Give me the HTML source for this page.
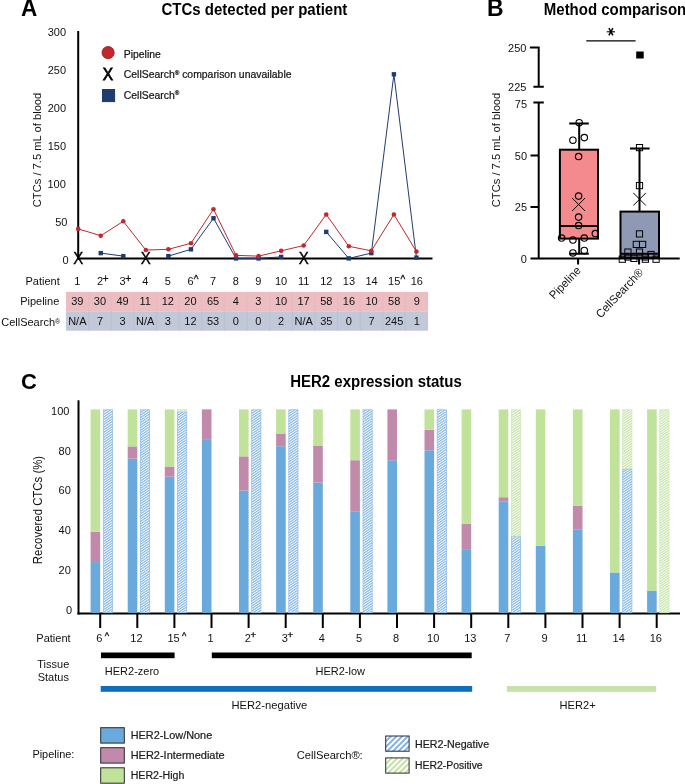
<!DOCTYPE html>
<html><head><meta charset="utf-8"><style>
html,body{margin:0;padding:0;background:#fff;}
svg{display:block;will-change:transform;}
text{font-family:"Liberation Sans", sans-serif;}
</style></head><body>
<svg width="685" height="784" viewBox="0 0 685 784">
<defs>
<pattern id="hb" patternUnits="userSpaceOnUse" width="2.1" height="2.1" patternTransform="rotate(56)">
<rect width="2.1" height="2.1" fill="#ffffff"/><rect width="1.15" height="2.1" fill="#84b6e6"/></pattern>
<pattern id="hg" patternUnits="userSpaceOnUse" width="2.1" height="2.1" patternTransform="rotate(56)">
<rect width="2.1" height="2.1" fill="#ffffff"/><rect width="1.15" height="2.1" fill="#c4e3a6"/></pattern>
<pattern id="lhb" patternUnits="userSpaceOnUse" width="4" height="4" patternTransform="rotate(45)">
<rect width="4" height="4" fill="#ffffff"/><rect width="2" height="4" fill="#7fb3e6"/></pattern>
<pattern id="lhg" patternUnits="userSpaceOnUse" width="4" height="4" patternTransform="rotate(45)">
<rect width="4" height="4" fill="#ffffff"/><rect width="2" height="4" fill="#c3e3a3"/></pattern>
</defs>
<rect width="685" height="784" fill="#fff"/>

<text transform="translate(20.90,16.40) scale(1,1.04)" font-size="22.5" text-anchor="start" font-weight="bold" fill="#000" >A</text>
<text transform="translate(254.40,14.60) scale(1,1.04)" font-size="15" text-anchor="middle" font-weight="bold" fill="#000" >CTCs detected per patient</text>
<text transform="translate(66.00,35.90) scale(1,1.04)" font-size="11" text-anchor="end" font-weight="normal" fill="#111111" >300</text>
<text transform="translate(66.00,73.90) scale(1,1.04)" font-size="11" text-anchor="end" font-weight="normal" fill="#111111" >250</text>
<text transform="translate(66.00,111.90) scale(1,1.04)" font-size="11" text-anchor="end" font-weight="normal" fill="#111111" >200</text>
<text transform="translate(66.00,149.90) scale(1,1.04)" font-size="11" text-anchor="end" font-weight="normal" fill="#111111" >150</text>
<text transform="translate(65.80,187.90) scale(1,1.04)" font-size="11" text-anchor="end" font-weight="normal" fill="#111111" >100</text>
<text transform="translate(67.40,225.90) scale(1,1.04)" font-size="11" text-anchor="end" font-weight="normal" fill="#111111" >50</text>
<text transform="translate(68.60,263.90) scale(1,1.04)" font-size="11" text-anchor="end" font-weight="normal" fill="#111111" >0</text>
<text transform="translate(41.3,150) rotate(-90) scale(1,1.04)" font-size="11.2" text-anchor="middle" fill="#111111">CTCs / 7.5 mL of blood</text>
<line x1="78.2" y1="31" x2="78.2" y2="259.4" stroke="#000" stroke-width="2"/>
<line x1="77.2" y1="258.4" x2="432.5" y2="258.4" stroke="#000" stroke-width="2"/>
<polyline points="100.75,253.10 123.30,256.13" fill="none" stroke="#1f3c70" stroke-width="1"/>
<polyline points="168.40,256.13 190.95,249.32 213.50,218.28 236.05,258.40 258.60,258.40 281.15,256.89" fill="none" stroke="#1f3c70" stroke-width="1"/>
<polyline points="326.25,231.90 348.80,258.40 371.35,253.10 393.90,74.30 416.45,257.64" fill="none" stroke="#1f3c70" stroke-width="1"/>
<polyline points="78.20,228.88 100.75,235.69 123.30,221.31 145.85,250.07 168.40,249.32 190.95,243.26 213.50,209.19 236.05,255.37 258.60,256.13 281.15,250.83 303.70,245.53 326.25,214.49 348.80,246.29 371.35,250.83 393.90,214.49 416.45,251.59" fill="none" stroke="#c4262e" stroke-width="1"/>
<rect x="98.55" y="250.90" width="4.4" height="4.4" fill="#1f3c70"/>
<rect x="121.10" y="253.93" width="4.4" height="4.4" fill="#1f3c70"/>
<rect x="166.20" y="253.93" width="4.4" height="4.4" fill="#1f3c70"/>
<rect x="188.75" y="247.12" width="4.4" height="4.4" fill="#1f3c70"/>
<rect x="211.30" y="216.08" width="4.4" height="4.4" fill="#1f3c70"/>
<rect x="233.85" y="256.20" width="4.4" height="4.4" fill="#1f3c70"/>
<rect x="256.40" y="256.20" width="4.4" height="4.4" fill="#1f3c70"/>
<rect x="278.95" y="254.69" width="4.4" height="4.4" fill="#1f3c70"/>
<rect x="324.05" y="229.70" width="4.4" height="4.4" fill="#1f3c70"/>
<rect x="346.60" y="256.20" width="4.4" height="4.4" fill="#1f3c70"/>
<rect x="369.15" y="250.90" width="4.4" height="4.4" fill="#1f3c70"/>
<rect x="391.70" y="72.10" width="4.4" height="4.4" fill="#1f3c70"/>
<rect x="414.25" y="255.44" width="4.4" height="4.4" fill="#1f3c70"/>
<circle cx="78.20" cy="228.88" r="2.3" fill="#c4262e"/>
<circle cx="100.75" cy="235.69" r="2.3" fill="#c4262e"/>
<circle cx="123.30" cy="221.31" r="2.3" fill="#c4262e"/>
<circle cx="145.85" cy="250.07" r="2.3" fill="#c4262e"/>
<circle cx="168.40" cy="249.32" r="2.3" fill="#c4262e"/>
<circle cx="190.95" cy="243.26" r="2.3" fill="#c4262e"/>
<circle cx="213.50" cy="209.19" r="2.3" fill="#c4262e"/>
<circle cx="236.05" cy="255.37" r="2.3" fill="#c4262e"/>
<circle cx="258.60" cy="256.13" r="2.3" fill="#c4262e"/>
<circle cx="281.15" cy="250.83" r="2.3" fill="#c4262e"/>
<circle cx="303.70" cy="245.53" r="2.3" fill="#c4262e"/>
<circle cx="326.25" cy="214.49" r="2.3" fill="#c4262e"/>
<circle cx="348.80" cy="246.29" r="2.3" fill="#c4262e"/>
<circle cx="371.35" cy="250.83" r="2.3" fill="#c4262e"/>
<circle cx="393.90" cy="214.49" r="2.3" fill="#c4262e"/>
<circle cx="416.45" cy="251.59" r="2.3" fill="#c4262e"/>
<text transform="translate(78.20,263.50) scale(1,1.04)" font-size="15" text-anchor="middle" font-weight="normal" fill="#000" stroke="#000" stroke-width="0.35">X</text>
<text transform="translate(145.85,263.50) scale(1,1.04)" font-size="15" text-anchor="middle" font-weight="normal" fill="#000" stroke="#000" stroke-width="0.35">X</text>
<text transform="translate(303.70,263.50) scale(1,1.04)" font-size="15" text-anchor="middle" font-weight="normal" fill="#000" stroke="#000" stroke-width="0.35">X</text>
<circle cx="108.1" cy="52.6" r="6.1" fill="#c4262e" stroke="#8a1a1f" stroke-width="0.8"/>
<text transform="translate(123.80,57.50) scale(1,1.0)" font-size="10.4" text-anchor="start" font-weight="normal" fill="#161314" stroke="#161314" stroke-width="0.22">Pipeline</text>
<text transform="translate(108.00,80.30) scale(1,1.04)" font-size="15.5" text-anchor="middle" font-weight="normal" fill="#000" stroke="#000" stroke-width="0.75">X</text>
<text transform="translate(123.80,78.20) scale(1,1.0)" font-size="10.42" text-anchor="start" font-weight="normal" fill="#161314" stroke="#161314" stroke-width="0.22">CellSearch<tspan font-size="6.2" dy="-3.3">®</tspan><tspan dy="3.3"> comparison unavailable</tspan></text>
<rect x="102.4" y="89.4" width="12.3" height="12.3" fill="#1f3c70" stroke="#14284d" stroke-width="0.8"/>
<text transform="translate(123.80,98.70) scale(1,1.0)" font-size="10.42" text-anchor="start" font-weight="normal" fill="#161314" stroke="#161314" stroke-width="0.22">CellSearch<tspan font-size="6.2" dy="-3.3">®</tspan></text>
<rect x="66.0" y="291.9" width="362.08" height="19.4" fill="#ecbdc1"/>
<rect x="66.0" y="311.3" width="362.08" height="19.4" fill="#c1c8d7"/>
<line x1="88.63" y1="291.9" x2="88.63" y2="311.3" stroke="#e8b7bb" stroke-width="0.8"/>
<line x1="88.63" y1="311.3" x2="88.63" y2="330.7" stroke="#b8bfcf" stroke-width="0.8"/>
<line x1="111.26" y1="291.9" x2="111.26" y2="311.3" stroke="#e8b7bb" stroke-width="0.8"/>
<line x1="111.26" y1="311.3" x2="111.26" y2="330.7" stroke="#b8bfcf" stroke-width="0.8"/>
<line x1="133.89" y1="291.9" x2="133.89" y2="311.3" stroke="#e8b7bb" stroke-width="0.8"/>
<line x1="133.89" y1="311.3" x2="133.89" y2="330.7" stroke="#b8bfcf" stroke-width="0.8"/>
<line x1="156.52" y1="291.9" x2="156.52" y2="311.3" stroke="#e8b7bb" stroke-width="0.8"/>
<line x1="156.52" y1="311.3" x2="156.52" y2="330.7" stroke="#b8bfcf" stroke-width="0.8"/>
<line x1="179.15" y1="291.9" x2="179.15" y2="311.3" stroke="#e8b7bb" stroke-width="0.8"/>
<line x1="179.15" y1="311.3" x2="179.15" y2="330.7" stroke="#b8bfcf" stroke-width="0.8"/>
<line x1="201.78" y1="291.9" x2="201.78" y2="311.3" stroke="#e8b7bb" stroke-width="0.8"/>
<line x1="201.78" y1="311.3" x2="201.78" y2="330.7" stroke="#b8bfcf" stroke-width="0.8"/>
<line x1="224.41" y1="291.9" x2="224.41" y2="311.3" stroke="#e8b7bb" stroke-width="0.8"/>
<line x1="224.41" y1="311.3" x2="224.41" y2="330.7" stroke="#b8bfcf" stroke-width="0.8"/>
<line x1="247.04" y1="291.9" x2="247.04" y2="311.3" stroke="#e8b7bb" stroke-width="0.8"/>
<line x1="247.04" y1="311.3" x2="247.04" y2="330.7" stroke="#b8bfcf" stroke-width="0.8"/>
<line x1="269.67" y1="291.9" x2="269.67" y2="311.3" stroke="#e8b7bb" stroke-width="0.8"/>
<line x1="269.67" y1="311.3" x2="269.67" y2="330.7" stroke="#b8bfcf" stroke-width="0.8"/>
<line x1="292.30" y1="291.9" x2="292.30" y2="311.3" stroke="#e8b7bb" stroke-width="0.8"/>
<line x1="292.30" y1="311.3" x2="292.30" y2="330.7" stroke="#b8bfcf" stroke-width="0.8"/>
<line x1="314.93" y1="291.9" x2="314.93" y2="311.3" stroke="#e8b7bb" stroke-width="0.8"/>
<line x1="314.93" y1="311.3" x2="314.93" y2="330.7" stroke="#b8bfcf" stroke-width="0.8"/>
<line x1="337.56" y1="291.9" x2="337.56" y2="311.3" stroke="#e8b7bb" stroke-width="0.8"/>
<line x1="337.56" y1="311.3" x2="337.56" y2="330.7" stroke="#b8bfcf" stroke-width="0.8"/>
<line x1="360.19" y1="291.9" x2="360.19" y2="311.3" stroke="#e8b7bb" stroke-width="0.8"/>
<line x1="360.19" y1="311.3" x2="360.19" y2="330.7" stroke="#b8bfcf" stroke-width="0.8"/>
<line x1="382.82" y1="291.9" x2="382.82" y2="311.3" stroke="#e8b7bb" stroke-width="0.8"/>
<line x1="382.82" y1="311.3" x2="382.82" y2="330.7" stroke="#b8bfcf" stroke-width="0.8"/>
<line x1="405.45" y1="291.9" x2="405.45" y2="311.3" stroke="#e8b7bb" stroke-width="0.8"/>
<line x1="405.45" y1="311.3" x2="405.45" y2="330.7" stroke="#b8bfcf" stroke-width="0.8"/>
<text transform="translate(59.70,284.80) scale(1,1.04)" font-size="11" text-anchor="end" font-weight="normal" fill="#111111" >Patient</text>
<text transform="translate(59.30,304.80) scale(1,1.04)" font-size="11" text-anchor="end" font-weight="normal" fill="#111111" >Pipeline</text>
<text transform="translate(60.30,326.20) scale(1,1.04)" font-size="11" text-anchor="end" font-weight="normal" fill="#111111" >CellSearch<tspan font-size="7.2" dy="-2.6">®</tspan></text>
<text transform="translate(77.31,284.80) scale(1,1.04)" font-size="11" text-anchor="middle" font-weight="normal" fill="#111111" >1</text>
<text transform="translate(77.31,304.80) scale(1,1.04)" font-size="11" text-anchor="middle" font-weight="normal" fill="#111111" >39</text>
<text transform="translate(77.31,324.70) scale(1,1.04)" font-size="11" text-anchor="middle" font-weight="normal" fill="#111111" >N/A</text>
<text transform="translate(99.94,284.80) scale(1,1.04)" font-size="11" text-anchor="middle" font-weight="normal" fill="#111111" >2</text>
<text transform="translate(102.60,282.00) scale(1,1.04)" font-size="10.5" text-anchor="start" font-weight="normal" fill="#111111" stroke="#111" stroke-width="0.3">+</text>
<text transform="translate(99.94,304.80) scale(1,1.04)" font-size="11" text-anchor="middle" font-weight="normal" fill="#111111" >30</text>
<text transform="translate(99.94,324.70) scale(1,1.04)" font-size="11" text-anchor="middle" font-weight="normal" fill="#111111" >7</text>
<text transform="translate(122.57,284.80) scale(1,1.04)" font-size="11" text-anchor="middle" font-weight="normal" fill="#111111" >3</text>
<text transform="translate(125.23,282.00) scale(1,1.04)" font-size="10.5" text-anchor="start" font-weight="normal" fill="#111111" stroke="#111" stroke-width="0.3">+</text>
<text transform="translate(122.57,304.80) scale(1,1.04)" font-size="11" text-anchor="middle" font-weight="normal" fill="#111111" >49</text>
<text transform="translate(122.57,324.70) scale(1,1.04)" font-size="11" text-anchor="middle" font-weight="normal" fill="#111111" >3</text>
<text transform="translate(145.20,284.80) scale(1,1.04)" font-size="11" text-anchor="middle" font-weight="normal" fill="#111111" >4</text>
<text transform="translate(145.20,304.80) scale(1,1.04)" font-size="11" text-anchor="middle" font-weight="normal" fill="#111111" >11</text>
<text transform="translate(145.20,324.70) scale(1,1.04)" font-size="11" text-anchor="middle" font-weight="normal" fill="#111111" >N/A</text>
<text transform="translate(167.83,284.80) scale(1,1.04)" font-size="11" text-anchor="middle" font-weight="normal" fill="#111111" >5</text>
<text transform="translate(167.83,304.80) scale(1,1.04)" font-size="11" text-anchor="middle" font-weight="normal" fill="#111111" >12</text>
<text transform="translate(167.83,324.70) scale(1,1.04)" font-size="11" text-anchor="middle" font-weight="normal" fill="#111111" >3</text>
<text transform="translate(190.46,284.80) scale(1,1.04)" font-size="11" text-anchor="middle" font-weight="normal" fill="#111111" >6</text>
<text transform="translate(193.87,282.80) scale(1,1.04)" font-size="10" text-anchor="start" font-weight="normal" fill="#111111" stroke="#1a1a1a" stroke-width="0.3">^</text>
<text transform="translate(190.46,304.80) scale(1,1.04)" font-size="11" text-anchor="middle" font-weight="normal" fill="#111111" >20</text>
<text transform="translate(190.46,324.70) scale(1,1.04)" font-size="11" text-anchor="middle" font-weight="normal" fill="#111111" >12</text>
<text transform="translate(213.09,284.80) scale(1,1.04)" font-size="11" text-anchor="middle" font-weight="normal" fill="#111111" >7</text>
<text transform="translate(213.09,304.80) scale(1,1.04)" font-size="11" text-anchor="middle" font-weight="normal" fill="#111111" >65</text>
<text transform="translate(213.09,324.70) scale(1,1.04)" font-size="11" text-anchor="middle" font-weight="normal" fill="#111111" >53</text>
<text transform="translate(235.72,284.80) scale(1,1.04)" font-size="11" text-anchor="middle" font-weight="normal" fill="#111111" >8</text>
<text transform="translate(235.72,304.80) scale(1,1.04)" font-size="11" text-anchor="middle" font-weight="normal" fill="#111111" >4</text>
<text transform="translate(235.72,324.70) scale(1,1.04)" font-size="11" text-anchor="middle" font-weight="normal" fill="#111111" >0</text>
<text transform="translate(258.36,284.80) scale(1,1.04)" font-size="11" text-anchor="middle" font-weight="normal" fill="#111111" >9</text>
<text transform="translate(258.36,304.80) scale(1,1.04)" font-size="11" text-anchor="middle" font-weight="normal" fill="#111111" >3</text>
<text transform="translate(258.36,324.70) scale(1,1.04)" font-size="11" text-anchor="middle" font-weight="normal" fill="#111111" >0</text>
<text transform="translate(280.99,284.80) scale(1,1.04)" font-size="11" text-anchor="middle" font-weight="normal" fill="#111111" >10</text>
<text transform="translate(280.99,304.80) scale(1,1.04)" font-size="11" text-anchor="middle" font-weight="normal" fill="#111111" >10</text>
<text transform="translate(280.99,324.70) scale(1,1.04)" font-size="11" text-anchor="middle" font-weight="normal" fill="#111111" >2</text>
<text transform="translate(303.62,284.80) scale(1,1.04)" font-size="11" text-anchor="middle" font-weight="normal" fill="#111111" >11</text>
<text transform="translate(303.62,304.80) scale(1,1.04)" font-size="11" text-anchor="middle" font-weight="normal" fill="#111111" >17</text>
<text transform="translate(303.62,324.70) scale(1,1.04)" font-size="11" text-anchor="middle" font-weight="normal" fill="#111111" >N/A</text>
<text transform="translate(326.25,284.80) scale(1,1.04)" font-size="11" text-anchor="middle" font-weight="normal" fill="#111111" >12</text>
<text transform="translate(326.25,304.80) scale(1,1.04)" font-size="11" text-anchor="middle" font-weight="normal" fill="#111111" >58</text>
<text transform="translate(326.25,324.70) scale(1,1.04)" font-size="11" text-anchor="middle" font-weight="normal" fill="#111111" >35</text>
<text transform="translate(348.88,284.80) scale(1,1.04)" font-size="11" text-anchor="middle" font-weight="normal" fill="#111111" >13</text>
<text transform="translate(348.88,304.80) scale(1,1.04)" font-size="11" text-anchor="middle" font-weight="normal" fill="#111111" >16</text>
<text transform="translate(348.88,324.70) scale(1,1.04)" font-size="11" text-anchor="middle" font-weight="normal" fill="#111111" >0</text>
<text transform="translate(371.50,284.80) scale(1,1.04)" font-size="11" text-anchor="middle" font-weight="normal" fill="#111111" >14</text>
<text transform="translate(371.50,304.80) scale(1,1.04)" font-size="11" text-anchor="middle" font-weight="normal" fill="#111111" >10</text>
<text transform="translate(371.50,324.70) scale(1,1.04)" font-size="11" text-anchor="middle" font-weight="normal" fill="#111111" >7</text>
<text transform="translate(394.13,284.80) scale(1,1.04)" font-size="11" text-anchor="middle" font-weight="normal" fill="#111111" >15</text>
<text transform="translate(400.61,282.80) scale(1,1.04)" font-size="10" text-anchor="start" font-weight="normal" fill="#111111" stroke="#1a1a1a" stroke-width="0.3">^</text>
<text transform="translate(394.13,304.80) scale(1,1.04)" font-size="11" text-anchor="middle" font-weight="normal" fill="#111111" >58</text>
<text transform="translate(394.13,324.70) scale(1,1.04)" font-size="11" text-anchor="middle" font-weight="normal" fill="#111111" >245</text>
<text transform="translate(416.76,284.80) scale(1,1.04)" font-size="11" text-anchor="middle" font-weight="normal" fill="#111111" >16</text>
<text transform="translate(416.76,304.80) scale(1,1.04)" font-size="11" text-anchor="middle" font-weight="normal" fill="#111111" >9</text>
<text transform="translate(416.76,324.70) scale(1,1.04)" font-size="11" text-anchor="middle" font-weight="normal" fill="#111111" >1</text>
<text transform="translate(487.00,15.90) scale(1,1.04)" font-size="23" text-anchor="start" font-weight="bold" fill="#000" >B</text>
<text transform="translate(543.80,15.00) scale(1,1.04)" font-size="15" text-anchor="start" font-weight="bold" fill="#000" >Method comparison</text>
<path d="M606.8,31.8H615" stroke="#000" stroke-width="1.1" fill="none"/><path d="M608.9,28.2L612.9,35.4M612.9,28.2L608.9,35.4" stroke="#000" stroke-width="1.5" fill="none"/>
<line x1="586.3" y1="40.8" x2="635.6" y2="40.8" stroke="#000" stroke-width="1.3"/>
<path d="M529.9,47.4H538.7V86.8M533.4,86.8H543.8" stroke="#000" stroke-width="2" fill="none"/>
<path d="M533.4,102.6H543.8M538.7,102.6V258.6M530.5,155.5H538.7M530.5,207.1H538.7M530.5,258.6H679.7" stroke="#000" stroke-width="2" fill="none"/>
<path d="M578.1,258.6V264.4M639.1,258.6V264.4" stroke="#000" stroke-width="2" fill="none"/>
<text transform="translate(526.40,51.70) scale(1,1.04)" font-size="11" text-anchor="end" font-weight="normal" fill="#111111" >250</text>
<text transform="translate(526.40,91.10) scale(1,1.04)" font-size="11" text-anchor="end" font-weight="normal" fill="#111111" >225</text>
<text transform="translate(527.00,108.30) scale(1,1.04)" font-size="11" text-anchor="end" font-weight="normal" fill="#111111" >75</text>
<text transform="translate(527.00,159.50) scale(1,1.04)" font-size="11" text-anchor="end" font-weight="normal" fill="#111111" >50</text>
<text transform="translate(527.00,211.10) scale(1,1.04)" font-size="11" text-anchor="end" font-weight="normal" fill="#111111" >25</text>
<text transform="translate(527.00,262.80) scale(1,1.04)" font-size="11" text-anchor="end" font-weight="normal" fill="#111111" >0</text>
<text transform="translate(500.1,150) rotate(-90) scale(1,1.04)" font-size="11.2" text-anchor="middle" fill="#111111">CTCs / 7.5 mL of blood</text>
<rect x="559.9" y="149.7" width="38.1" height="88.9" fill="#f4898e" stroke="#000" stroke-width="2"/>
<path d="M559.9,226.1H598M579.2,123.6V149.7M579.2,238.6V253.7M569.2,123.6H588.8M569.2,253.7H588.8" stroke="#000" stroke-width="2" fill="none"/>
<circle cx="579.2" cy="122.7" r="3.2" fill="none" stroke="#000" stroke-width="1.15"/>
<circle cx="572.9" cy="140.2" r="3.2" fill="none" stroke="#000" stroke-width="1.15"/>
<circle cx="584.3" cy="137.6" r="3.2" fill="none" stroke="#000" stroke-width="1.15"/>
<circle cx="578.6" cy="156.5" r="3.2" fill="none" stroke="#000" stroke-width="1.15"/>
<circle cx="578.6" cy="196.1" r="3.2" fill="none" stroke="#000" stroke-width="1.15"/>
<circle cx="578.6" cy="217.1" r="3.2" fill="none" stroke="#000" stroke-width="1.15"/>
<circle cx="578.6" cy="225.5" r="3.2" fill="none" stroke="#000" stroke-width="1.15"/>
<circle cx="595.3" cy="233.5" r="3.2" fill="none" stroke="#000" stroke-width="1.15"/>
<circle cx="561.6" cy="238" r="3.2" fill="none" stroke="#000" stroke-width="1.15"/>
<circle cx="572.9" cy="240" r="3.2" fill="none" stroke="#000" stroke-width="1.15"/>
<circle cx="584.3" cy="238" r="3.2" fill="none" stroke="#000" stroke-width="1.15"/>
<circle cx="572.9" cy="252.9" r="3.2" fill="none" stroke="#000" stroke-width="1.15"/>
<circle cx="584.3" cy="250.4" r="3.2" fill="none" stroke="#000" stroke-width="1.15"/>
<path d="M572.1,198.0L585.1,211.0M585.1,198.0L572.1,211.0" stroke="#000" stroke-width="1" fill="none"/>
<rect x="620.5" y="211.6" width="38.5" height="46" fill="#8e9ab4" stroke="#000" stroke-width="2"/>
<path d="M639.5,148.4V211.6M630,148.4H649.6M620.5,253.8H659" stroke="#000" stroke-width="2" fill="none"/>
<rect x="636.40" y="144.50" width="6.2" height="6.2" fill="none" stroke="#000" stroke-width="1"/>
<rect x="636.40" y="182.50" width="6.2" height="6.2" fill="none" stroke="#000" stroke-width="1"/>
<rect x="636.40" y="230.80" width="6.2" height="6.2" fill="none" stroke="#000" stroke-width="1"/>
<rect x="633.20" y="241.30" width="6.2" height="6.2" fill="none" stroke="#000" stroke-width="1"/>
<rect x="639.50" y="241.30" width="6.2" height="6.2" fill="none" stroke="#000" stroke-width="1"/>
<rect x="624.80" y="249.00" width="6.2" height="6.2" fill="none" stroke="#000" stroke-width="1"/>
<rect x="636.40" y="249.00" width="6.2" height="6.2" fill="none" stroke="#000" stroke-width="1"/>
<rect x="647.90" y="251.40" width="6.2" height="6.2" fill="none" stroke="#000" stroke-width="1"/>
<rect x="619.20" y="256.10" width="6.2" height="6.2" fill="none" stroke="#000" stroke-width="1"/>
<rect x="630.80" y="255.30" width="6.2" height="6.2" fill="none" stroke="#000" stroke-width="1"/>
<rect x="642.30" y="256.10" width="6.2" height="6.2" fill="none" stroke="#000" stroke-width="1"/>
<rect x="653.00" y="256.10" width="6.2" height="6.2" fill="none" stroke="#000" stroke-width="1"/>
<rect x="624.80" y="253.90" width="6.2" height="6.2" fill="none" stroke="#000" stroke-width="1"/>
<rect x="642.30" y="253.90" width="6.2" height="6.2" fill="none" stroke="#000" stroke-width="1"/>
<path d="M633.3000000000001,192.89999999999998L645.9,205.5M645.9,192.89999999999998L633.3000000000001,205.5" stroke="#000" stroke-width="1" fill="none"/>
<rect x="636.2" y="51.5" width="7.5" height="7" fill="#000"/>
<text transform="translate(581.5,271) rotate(-46.5) scale(1,1.04)" font-size="11.2" text-anchor="end" fill="#111111">Pipeline</text>
<text transform="translate(644,273) rotate(-46.5) scale(1,1.04)" font-size="11.2" text-anchor="end" fill="#111111">CellSearch®</text>
<text transform="translate(21.00,389.40) scale(1,1.04)" font-size="22" text-anchor="start" font-weight="bold" fill="#000" >C</text>
<text transform="translate(376.00,387.20) scale(1,1.04)" font-size="15" text-anchor="middle" font-weight="bold" fill="#000" >HER2 expression status</text>
<text transform="translate(69.40,415.20) scale(1,1.04)" font-size="11" text-anchor="end" font-weight="normal" fill="#111111" >100</text>
<text transform="translate(70.80,455.00) scale(1,1.04)" font-size="11" text-anchor="end" font-weight="normal" fill="#111111" >80</text>
<text transform="translate(70.80,494.30) scale(1,1.04)" font-size="11" text-anchor="end" font-weight="normal" fill="#111111" >60</text>
<text transform="translate(70.80,534.40) scale(1,1.04)" font-size="11" text-anchor="end" font-weight="normal" fill="#111111" >40</text>
<text transform="translate(70.80,573.60) scale(1,1.04)" font-size="11" text-anchor="end" font-weight="normal" fill="#111111" >20</text>
<text transform="translate(72.20,613.70) scale(1,1.04)" font-size="11" text-anchor="end" font-weight="normal" fill="#111111" >0</text>
<text transform="translate(42,510) rotate(-90) scale(1,1.04)" font-size="11.4" text-anchor="middle" fill="#111111">Recovered CTCs (%)</text>
<line x1="78.5" y1="400.3" x2="78.5" y2="614.5" stroke="#000" stroke-width="2"/>
<line x1="77.5" y1="613.5" x2="680" y2="613.5" stroke="#000" stroke-width="2"/>
<rect x="90.60" y="562.08" width="9.6" height="50.62" fill="#6aa9dc"/>
<rect x="90.60" y="531.79" width="9.6" height="30.29" fill="#c18aaa"/>
<rect x="90.60" y="409.40" width="9.6" height="122.39" fill="#c1e29a"/>
<rect x="103.30" y="409.80" width="9.2" height="202.90" fill="url(#hb)" stroke="#92bfea" stroke-width="0.8"/>
<line x1="100.20" y1="613.5" x2="100.20" y2="628" stroke="#000" stroke-width="2"/>
<text transform="translate(99.30,642.00) scale(1,1.04)" font-size="11" text-anchor="middle" font-weight="normal" fill="#111111" >6</text>
<text transform="translate(104.81,639.00) scale(1,1.04)" font-size="9.2" text-anchor="start" font-weight="normal" fill="#111111" stroke="#1a1a1a" stroke-width="0.35">^</text>
<rect x="127.70" y="458.60" width="9.6" height="154.10" fill="#6aa9dc"/>
<rect x="127.70" y="446.40" width="9.6" height="12.20" fill="#c18aaa"/>
<rect x="127.70" y="409.40" width="9.6" height="37.00" fill="#c1e29a"/>
<rect x="140.40" y="409.80" width="9.2" height="202.90" fill="url(#hb)" stroke="#92bfea" stroke-width="0.8"/>
<line x1="137.30" y1="613.5" x2="137.30" y2="628" stroke="#000" stroke-width="2"/>
<text transform="translate(136.40,642.00) scale(1,1.04)" font-size="11" text-anchor="middle" font-weight="normal" fill="#111111" >12</text>
<rect x="164.80" y="476.69" width="9.6" height="136.01" fill="#6aa9dc"/>
<rect x="164.80" y="466.53" width="9.6" height="10.16" fill="#c18aaa"/>
<rect x="164.80" y="409.40" width="9.6" height="57.13" fill="#c1e29a"/>
<rect x="177.50" y="411.83" width="9.2" height="200.87" fill="url(#hb)" stroke="#92bfea" stroke-width="0.8"/>
<rect x="177.50" y="409.80" width="9.2" height="1.63" fill="url(#hg)" stroke="#cfe8b6" stroke-width="0.8"/>
<line x1="174.40" y1="613.5" x2="174.40" y2="628" stroke="#000" stroke-width="2"/>
<text transform="translate(173.50,642.00) scale(1,1.04)" font-size="11" text-anchor="middle" font-weight="normal" fill="#111111" >15</text>
<text transform="translate(182.07,639.00) scale(1,1.04)" font-size="9.2" text-anchor="start" font-weight="normal" fill="#111111" stroke="#1a1a1a" stroke-width="0.35">^</text>
<rect x="201.90" y="439.90" width="9.6" height="172.81" fill="#6aa9dc"/>
<rect x="201.90" y="409.40" width="9.6" height="30.49" fill="#c18aaa"/>
<line x1="211.50" y1="613.5" x2="211.50" y2="628" stroke="#000" stroke-width="2"/>
<text transform="translate(210.60,642.00) scale(1,1.04)" font-size="11" text-anchor="middle" font-weight="normal" fill="#111111" >1</text>
<rect x="239.00" y="490.52" width="9.6" height="122.18" fill="#6aa9dc"/>
<rect x="239.00" y="456.36" width="9.6" height="34.15" fill="#c18aaa"/>
<rect x="239.00" y="409.40" width="9.6" height="46.96" fill="#c1e29a"/>
<rect x="251.70" y="409.80" width="9.2" height="202.90" fill="url(#hb)" stroke="#92bfea" stroke-width="0.8"/>
<line x1="248.60" y1="613.5" x2="248.60" y2="628" stroke="#000" stroke-width="2"/>
<text transform="translate(247.70,642.00) scale(1,1.04)" font-size="11" text-anchor="middle" font-weight="normal" fill="#111111" >2</text>
<text transform="translate(250.41,637.85) scale(1,1.04)" font-size="9.4" text-anchor="start" font-weight="normal" fill="#111111" stroke="#111" stroke-width="0.35">+</text>
<rect x="276.10" y="446.20" width="9.6" height="166.50" fill="#6aa9dc"/>
<rect x="276.10" y="434.00" width="9.6" height="12.20" fill="#c18aaa"/>
<rect x="276.10" y="409.40" width="9.6" height="24.60" fill="#c1e29a"/>
<rect x="288.80" y="409.80" width="9.2" height="202.90" fill="url(#hb)" stroke="#92bfea" stroke-width="0.8"/>
<line x1="285.70" y1="613.5" x2="285.70" y2="628" stroke="#000" stroke-width="2"/>
<text transform="translate(284.80,642.00) scale(1,1.04)" font-size="11" text-anchor="middle" font-weight="normal" fill="#111111" >3</text>
<text transform="translate(287.51,637.85) scale(1,1.04)" font-size="9.4" text-anchor="start" font-weight="normal" fill="#111111" stroke="#111" stroke-width="0.35">+</text>
<rect x="313.20" y="482.59" width="9.6" height="130.11" fill="#6aa9dc"/>
<rect x="313.20" y="445.99" width="9.6" height="36.59" fill="#c18aaa"/>
<rect x="313.20" y="409.40" width="9.6" height="36.59" fill="#c1e29a"/>
<line x1="322.80" y1="613.5" x2="322.80" y2="628" stroke="#000" stroke-width="2"/>
<text transform="translate(321.90,642.00) scale(1,1.04)" font-size="11" text-anchor="middle" font-weight="normal" fill="#111111" >4</text>
<rect x="350.30" y="511.25" width="9.6" height="101.45" fill="#6aa9dc"/>
<rect x="350.30" y="460.23" width="9.6" height="51.03" fill="#c18aaa"/>
<rect x="350.30" y="409.40" width="9.6" height="50.82" fill="#c1e29a"/>
<rect x="363.00" y="409.80" width="9.2" height="202.90" fill="url(#hb)" stroke="#92bfea" stroke-width="0.8"/>
<line x1="359.90" y1="613.5" x2="359.90" y2="628" stroke="#000" stroke-width="2"/>
<text transform="translate(359.00,642.00) scale(1,1.04)" font-size="11" text-anchor="middle" font-weight="normal" fill="#111111" >5</text>
<rect x="387.40" y="460.23" width="9.6" height="152.48" fill="#6aa9dc"/>
<rect x="387.40" y="409.40" width="9.6" height="50.82" fill="#c18aaa"/>
<line x1="397.00" y1="613.5" x2="397.00" y2="628" stroke="#000" stroke-width="2"/>
<text transform="translate(396.10,642.00) scale(1,1.04)" font-size="11" text-anchor="middle" font-weight="normal" fill="#111111" >8</text>
<rect x="424.50" y="450.26" width="9.6" height="162.44" fill="#6aa9dc"/>
<rect x="424.50" y="429.73" width="9.6" height="20.53" fill="#c18aaa"/>
<rect x="424.50" y="409.40" width="9.6" height="20.33" fill="#c1e29a"/>
<rect x="437.20" y="409.80" width="9.2" height="202.90" fill="url(#hb)" stroke="#92bfea" stroke-width="0.8"/>
<line x1="434.10" y1="613.5" x2="434.10" y2="628" stroke="#000" stroke-width="2"/>
<text transform="translate(433.20,642.00) scale(1,1.04)" font-size="11" text-anchor="middle" font-weight="normal" fill="#111111" >10</text>
<rect x="461.60" y="549.88" width="9.6" height="62.82" fill="#6aa9dc"/>
<rect x="461.60" y="523.86" width="9.6" height="26.02" fill="#c18aaa"/>
<rect x="461.60" y="409.40" width="9.6" height="114.46" fill="#c1e29a"/>
<line x1="471.20" y1="613.5" x2="471.20" y2="628" stroke="#000" stroke-width="2"/>
<text transform="translate(470.30,642.00) scale(1,1.04)" font-size="11" text-anchor="middle" font-weight="normal" fill="#111111" >13</text>
<rect x="498.70" y="501.29" width="9.6" height="111.41" fill="#6aa9dc"/>
<rect x="498.70" y="497.23" width="9.6" height="4.07" fill="#c18aaa"/>
<rect x="498.70" y="409.40" width="9.6" height="87.83" fill="#c1e29a"/>
<rect x="511.40" y="536.46" width="9.2" height="76.24" fill="url(#hb)" stroke="#92bfea" stroke-width="0.8"/>
<rect x="511.40" y="409.80" width="9.2" height="126.26" fill="url(#hg)" stroke="#cfe8b6" stroke-width="0.8"/>
<line x1="508.30" y1="613.5" x2="508.30" y2="628" stroke="#000" stroke-width="2"/>
<text transform="translate(507.40,642.00) scale(1,1.04)" font-size="11" text-anchor="middle" font-weight="normal" fill="#111111" >7</text>
<rect x="535.80" y="545.81" width="9.6" height="66.89" fill="#6aa9dc"/>
<rect x="535.80" y="409.40" width="9.6" height="136.41" fill="#c1e29a"/>
<line x1="545.40" y1="613.5" x2="545.40" y2="628" stroke="#000" stroke-width="2"/>
<text transform="translate(544.50,642.00) scale(1,1.04)" font-size="11" text-anchor="middle" font-weight="normal" fill="#111111" >9</text>
<rect x="572.90" y="529.75" width="9.6" height="82.95" fill="#6aa9dc"/>
<rect x="572.90" y="505.56" width="9.6" height="24.19" fill="#c18aaa"/>
<rect x="572.90" y="409.40" width="9.6" height="96.16" fill="#c1e29a"/>
<line x1="582.50" y1="613.5" x2="582.50" y2="628" stroke="#000" stroke-width="2"/>
<text transform="translate(581.60,642.00) scale(1,1.04)" font-size="11" text-anchor="middle" font-weight="normal" fill="#111111" >11</text>
<rect x="610.00" y="572.45" width="9.6" height="40.25" fill="#6aa9dc"/>
<rect x="610.00" y="409.40" width="9.6" height="163.05" fill="#c1e29a"/>
<rect x="622.70" y="468.96" width="9.2" height="143.74" fill="url(#hb)" stroke="#92bfea" stroke-width="0.8"/>
<rect x="622.70" y="409.80" width="9.2" height="58.76" fill="url(#hg)" stroke="#cfe8b6" stroke-width="0.8"/>
<line x1="619.60" y1="613.5" x2="619.60" y2="628" stroke="#000" stroke-width="2"/>
<text transform="translate(618.70,642.00) scale(1,1.04)" font-size="11" text-anchor="middle" font-weight="normal" fill="#111111" >14</text>
<rect x="647.10" y="590.54" width="9.6" height="22.16" fill="#6aa9dc"/>
<rect x="647.10" y="409.40" width="9.6" height="181.14" fill="#c1e29a"/>
<rect x="659.80" y="409.80" width="9.2" height="202.90" fill="url(#hg)" stroke="#cfe8b6" stroke-width="0.8"/>
<line x1="656.70" y1="613.5" x2="656.70" y2="628" stroke="#000" stroke-width="2"/>
<text transform="translate(655.80,642.00) scale(1,1.04)" font-size="11" text-anchor="middle" font-weight="normal" fill="#111111" >16</text>
<text transform="translate(70.60,642.00) scale(1,1.04)" font-size="11" text-anchor="end" font-weight="normal" fill="#111111" >Patient</text>
<text transform="translate(53.30,667.90) scale(1,1.04)" font-size="11" text-anchor="middle" font-weight="normal" fill="#111111" >Tissue</text>
<text transform="translate(53.30,681.40) scale(1,1.04)" font-size="11" text-anchor="middle" font-weight="normal" fill="#111111" >Status</text>
<rect x="101" y="652.5" width="73.6" height="5.7" fill="#000"/>
<rect x="211.8" y="652.5" width="259.9" height="5.7" fill="#000"/>
<text transform="translate(104.80,674.70) scale(1,1.04)" font-size="11" text-anchor="start" font-weight="normal" fill="#111111" >HER2-zero</text>
<text transform="translate(315.50,674.70) scale(1,1.04)" font-size="11" text-anchor="start" font-weight="normal" fill="#111111" >HER2-low</text>
<rect x="100.7" y="686" width="371.5" height="5.8" fill="#0d6fbd"/>
<rect x="506.9" y="686" width="149.3" height="5.8" fill="#c6e2a8"/>
<text transform="translate(231.50,708.70) scale(1,1.04)" font-size="11.2" text-anchor="start" font-weight="normal" fill="#111111" >HER2-negative</text>
<text transform="translate(559.60,708.80) scale(1,1.04)" font-size="11.1" text-anchor="start" font-weight="normal" fill="#111111" >HER2+</text>
<text transform="translate(32.40,757.60) scale(1,1.04)" font-size="10.95" text-anchor="start" font-weight="normal" fill="#111111" >Pipeline:</text>
<rect x="100.7" y="727.7" width="23.6" height="15.4" fill="#6aa9dc" stroke="#2a2a2a" stroke-width="1"/>
<rect x="100.7" y="747.7" width="23.6" height="15.4" fill="#c18aaa" stroke="#2a2a2a" stroke-width="1"/>
<rect x="100.7" y="767.8" width="23.6" height="15.4" fill="#c1e29a" stroke="#2a2a2a" stroke-width="1"/>
<text transform="translate(130.70,739.10) scale(1,1.0)" font-size="10.87" text-anchor="start" font-weight="normal" fill="#231f20" stroke="#161314" stroke-width="0.22">HER2-Low/None</text>
<text transform="translate(130.70,759.00) scale(1,1.0)" font-size="10.98" text-anchor="start" font-weight="normal" fill="#231f20" stroke="#161314" stroke-width="0.22">HER2-Intermediate</text>
<text transform="translate(130.70,778.90) scale(1,1.0)" font-size="10.62" text-anchor="start" font-weight="normal" fill="#231f20" stroke="#161314" stroke-width="0.22">HER2-High</text>
<text transform="translate(296.70,758.60) scale(1,1.04)" font-size="11.2" text-anchor="start" font-weight="normal" fill="#111111" >CellSearch®:</text>
<rect x="385.7" y="736" width="23.4" height="15.2" fill="url(#lhb)" stroke="#2a2a2a" stroke-width="1"/>
<rect x="385.7" y="757.9" width="23.4" height="15.2" fill="url(#lhg)" stroke="#2a2a2a" stroke-width="1"/>
<text transform="translate(415.00,747.80) scale(1,1.0)" font-size="10.68" text-anchor="start" font-weight="normal" fill="#231f20" stroke="#161314" stroke-width="0.22">HER2-Negative</text>
<text transform="translate(415.00,768.80) scale(1,1.0)" font-size="10.41" text-anchor="start" font-weight="normal" fill="#231f20" stroke="#161314" stroke-width="0.22">HER2-Positive</text>
</svg></body></html>
